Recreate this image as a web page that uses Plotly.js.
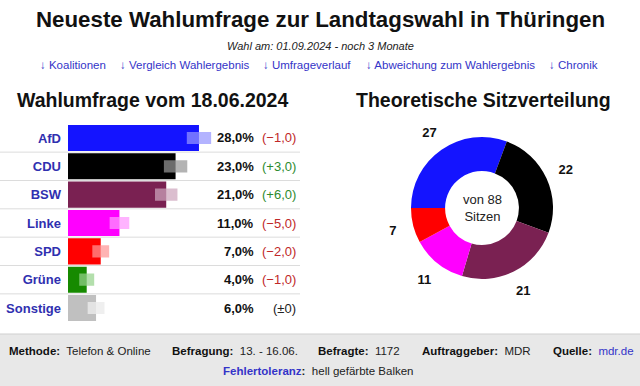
<!DOCTYPE html>
<html>
<head>
<meta charset="utf-8">
<script src="https://cdn.plot.ly/plotly-3.0.1.min.js"></script>
<style>
html,body{margin:0;padding:0;background:#fff;}
#chart{width:640px;height:386px;}
</style>
</head>
<body>
<div id="chart"></div>
<script>
// ---- data ----
const parties = ['AfD', 'CDU', 'BSW', 'Linke', 'SPD', 'Grüne', 'Sonstige'];
const values = [28, 23, 21, 11, 7, 4, 6];
const changes = [-1, 3, 6, -5, -2, -1, 0];
const tolerance = [2.6, 2.5, 2.4, 2.1, 1.8, 1.6, 1.8];
const partyColors = ['#1414ff', '#000000', '#7a2152', '#ff00ff', '#ff0000', '#168a00', '#c0c0c0'];
const toleranceColors = ['rgba(150,150,255,0.72)', 'rgba(150,150,150,0.72)', 'rgba(205,165,188,0.72)',
  'rgba(255,150,255,0.72)', 'rgba(255,150,150,0.72)', 'rgba(150,210,140,0.72)', 'rgba(235,235,235,0.8)'];
const seatParties = ['AfD', 'CDU', 'BSW', 'Linke', 'SPD'];
const seats = [27, 22, 21, 11, 7];
const seatColors = ['#1414ff', '#000000', '#7a2152', '#ff00ff', '#ff0000'];
const links = ['Koalitionen', 'Vergleich Wahlergebnis', 'Umfrageverlauf', 'Abweichung zum Wahlergebnis', 'Chronik'];
const footerItems = [['Methode:', 'Telefon & Online'], ['Befragung:', '13. - 16.06.'], ['Befragte:', '1172'], ['Auftraggeber:', 'MDR'], ['Quelle:', 'mdr.de']];

// ---- helpers ----
const FONT = 'Liberation Sans, Arial, sans-serif';
const fmtVal = v => v.toFixed(1).replace('.', ',') + '%';
const fmtChange = c => c === 0 ? '(±0)' : '(' + (c > 0 ? '+' : '\u2212') + Math.abs(c).toFixed(1).replace('.', ',') + ')';
const changeColor = c => c === 0 ? '#222' : (c > 0 ? '#2e8b2e' : '#c02828');

const W = 640, H = 386;
const px = x => x / W;
const py = y => 1 - y / H;

// donut geometry (pixels)
const CX = 482, CY = 208, R = 71, LABEL_R = 112;

const traces = [
  {
    type: 'bar', orientation: 'h', y: parties, x: values,
    marker: {color: partyColors, line: {width: 0}},
    width: 0.92, hoverinfo: 'skip', xaxis: 'x', yaxis: 'y'
  },
  {
    type: 'bar', orientation: 'h', y: parties,
    x: tolerance.map(t => 2 * t),
    base: values.map((v, i) => v - tolerance[i]),
    marker: {color: toleranceColors, line: {width: 0}},
    width: 0.43, hoverinfo: 'skip', xaxis: 'x', yaxis: 'y'
  },
  {
    type: 'pie', labels: seatParties, values: seats, sort: false,
    direction: 'clockwise', rotation: -90, hole: 0.52,
    marker: {colors: seatColors, line: {width: 0}},
    textinfo: 'none',
    domain: {x: [px(CX - R), px(CX + R)], y: [py(CY + R), py(CY - R)]},
    showlegend: false, hoverinfo: 'skip'
  },
  {
    // transparent outer ring that carries the seat labels
    type: 'pie', labels: seatParties, values: seats, sort: false,
    direction: 'clockwise', rotation: -90, hole: 0.643,
    marker: {colors: seatColors.map(() => 'rgba(0,0,0,0)'), line: {width: 0}},
    textposition: 'inside', insidetextorientation: 'horizontal', texttemplate: '%{value}',
    insidetextfont: {family: FONT, size: 13, color: '#111', weight: 'bold'},
    domain: {x: [px(CX - LABEL_R), px(CX + LABEL_R)], y: [py(CY + LABEL_R), py(CY - LABEL_R)]},
    showlegend: false, hoverinfo: 'skip'
  }
];

const annotations = [];
// main title and subtitle
annotations.push({text: '<b>Neueste Wahlumfrage zur Landtagswahl in Thüringen</b>', xref: 'paper', yref: 'paper',
  x: 0.5, y: py(20), showarrow: false, font: {family: FONT, size: 22.3, color: '#111'}, xanchor: 'center', yanchor: 'middle'});
annotations.push({text: '<i>Wahl am: 01.09.2024 - noch 3 Monate</i>', xref: 'paper', yref: 'paper',
  x: 0.5, y: py(46), showarrow: false, font: {family: FONT, size: 11, color: '#222'}, xanchor: 'center', yanchor: 'middle'});
const linkCenters = [73, 185, 307, 450, 573];
links.forEach((l, i) => annotations.push({text: '\u2193 ' + l, xref: 'paper', yref: 'paper',
  x: px(linkCenters[i]), y: py(65), showarrow: false, font: {family: FONT, size: 11.5, color: '#3434c8'}, xanchor: 'center', yanchor: 'middle'}));
// section titles
annotations.push({text: '<b>Wahlumfrage vom 18.06.2024</b>', xref: 'paper', yref: 'paper',
  x: px(152), y: py(100), showarrow: false, font: {family: FONT, size: 19.5, color: '#111'}, xanchor: 'center', yanchor: 'middle'});
annotations.push({text: '<b>Theoretische Sitzverteilung</b>', xref: 'paper', yref: 'paper',
  x: px(483), y: py(100), showarrow: false, font: {family: FONT, size: 19.5, color: '#111'}, xanchor: 'center', yanchor: 'middle'});
// values and changes
parties.forEach((p, i) => {
  annotations.push({text: '<b>' + fmtVal(values[i]) + '</b>', xref: 'paper', yref: 'y', x: px(256), y: p,
    showarrow: false, xanchor: 'right', yanchor: 'middle', font: {family: FONT, size: 13, color: '#111'}});
  annotations.push({text: fmtChange(changes[i]), xref: 'paper', yref: 'y', x: px(298), y: p,
    showarrow: false, xanchor: 'right', yanchor: 'middle', font: {family: FONT, size: 13, color: changeColor(changes[i])}});
});
// donut centre
const totalSeats = seats.reduce((a, b) => a + b, 0);
annotations.push({text: 'von ' + totalSeats + '<br>Sitzen', xref: 'paper', yref: 'paper', x: px(CX), y: py(CY),
  showarrow: false, xanchor: 'center', yanchor: 'middle', font: {family: FONT, size: 13, color: '#222'}});
// footer
const footerX = [7, 170, 316, 420, 551];
footerItems.forEach((f, i) => {
  const valColor = f[0] === 'Quelle:' ? '#3434c8' : '#222';
  annotations.push({text: '<b>' + f[0] + '</b>  <span style="color:' + valColor + '">' + f[1] + '</span>', xref: 'paper', yref: 'paper',
    x: px(footerX[i]), y: py(351), showarrow: false, xanchor: 'left', yanchor: 'middle', font: {family: FONT, size: 11.5, color: '#111'}});
});
annotations.push({text: '<b><span style="color:#3434c8">Fehlertoleranz</span>:</b>  hell gefärbte Balken', xref: 'paper', yref: 'paper',
  x: px(318), y: py(371), showarrow: false, xanchor: 'center', yanchor: 'middle', font: {family: FONT, size: 11.5, color: '#222'}});

const shapes = [];
// row separators
for (let i = 0; i < parties.length - 1; i++) {
  shapes.push({type: 'line', xref: 'paper', yref: 'y', x0: 0, x1: px(300), y0: i + 0.5, y1: i + 0.5,
    line: {color: '#dcdcdc', width: 1}, layer: 'below'});
}
// footer band
shapes.push({type: 'rect', xref: 'paper', yref: 'paper', x0: 0, x1: 1, y0: 0, y1: py(334),
  fillcolor: '#e8e8e8', line: {width: 0}, layer: 'below'});
shapes.push({type: 'line', xref: 'paper', yref: 'paper', x0: 0, x1: 1, y0: py(334), y1: py(334),
  line: {color: '#cfcfcf', width: 1}, layer: 'below'});

const layout = {
  width: W, height: H,
  margin: {l: 0, r: 0, t: 0, b: 0},
  paper_bgcolor: '#ffffff', plot_bgcolor: 'rgba(0,0,0,0)',
  barmode: 'overlay', showlegend: false,
  font: {family: FONT},
  xaxis: {domain: [px(68), px(300)], range: [0, 49.6], visible: false, fixedrange: true},
  yaxis: {
    domain: [py(322.2), py(123.8)], range: [6.5, -0.5], type: 'category',
    categoryorder: 'array', categoryarray: parties,
    tickvals: parties, ticktext: parties.map(p => '<b>' + p + '</b>'),
    tickfont: {family: FONT, size: 13, color: '#3030b0'},
    showgrid: false, zeroline: false, showline: false, ticks: '', ticklabelstandoff: 6, fixedrange: true
  },
  annotations: annotations,
  shapes: shapes
};

Plotly.newPlot('chart', traces, layout, {displayModeBar: false, staticPlot: true});
</script>
</body>
</html>
